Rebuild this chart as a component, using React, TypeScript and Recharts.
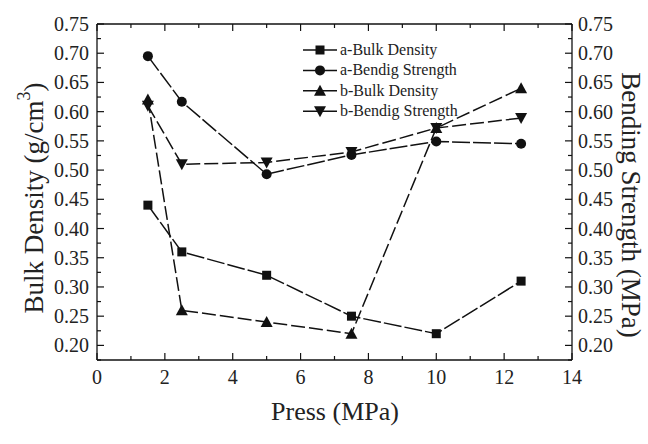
import { Legend, Line, LineChart, XAxis, YAxis } from 'recharts'

const PRESS = [1.5, 2.5, 5, 7.5, 10, 12.5]
const A_BULK = [0.44, 0.36, 0.32, 0.25, 0.22, 0.31]
const A_BEND = [0.695, 0.617, 0.493, 0.526, 0.549, 0.545]
const B_BULK = [0.621, 0.26, 0.24, 0.22, 0.572, 0.64]
const B_BEND = [0.61, 0.51, 0.513, 0.531, 0.572, 0.589]

const X_TICKS = [0, 1, 2, 3, 4, 5, 6, 7, 8, 9, 10, 11, 12, 13, 14]
const Y_TICKS = [
  0.175, 0.2, 0.225, 0.25, 0.275, 0.3, 0.325, 0.35, 0.375, 0.4, 0.425, 0.45, 0.475, 0.5,
  0.525, 0.55, 0.575, 0.6, 0.625, 0.65, 0.675, 0.7, 0.725, 0.75,
]

const data = PRESS.map((p, i) => ({
  press: p,
  aBulk: A_BULK[i],
  aBend: A_BEND[i],
  bBulk: B_BULK[i],
  bBend: B_BEND[i],
}))

const W = 648
const H = 444
const PLOT_LEFT = 97
const PLOT_RIGHT = 572
const PLOT_TOP = 24
const PLOT_BOTTOM = 360
const INK = '#111'
const FONT = 'Liberation Serif, Times New Roman, DejaVu Serif, serif'
const txt = { fontFamily: FONT, fill: '#222' }

const isMajorY = (v: number) => Math.abs(v * 20 - Math.round(v * 20)) < 1e-6
const isMajorX = (v: number) => v % 2 === 0

type Shape = 'square' | 'circle' | 'up' | 'down'

function marker(shape: Shape, cx: number, cy: number, key?: string) {
  if (shape === 'square') return <rect key={key} x={cx - 4.5} y={cy - 4.5} width={9} height={9} fill={INK} />
  if (shape === 'circle') return <circle key={key} cx={cx} cy={cy} r={5} fill={INK} />
  if (shape === 'up')
    return <polygon key={key} points={`${cx},${cy - 6} ${cx - 6},${cy + 5} ${cx + 6},${cy + 5}`} fill={INK} />
  return <polygon key={key} points={`${cx},${cy + 6} ${cx - 6},${cy - 5} ${cx + 6},${cy - 5}`} fill={INK} />
}

const dotFor = (shape: Shape) => (p: any) => marker(shape, p.cx, p.cy, `${shape}-${p.index}`)

function LeftTick({ y, payload }: any) {
  const major = isMajorY(payload.value)
  return (
    <g>
      <line x1={PLOT_LEFT} x2={PLOT_LEFT + (major ? 7 : 4)} y1={y} y2={y} stroke={INK} strokeWidth={1.2} />
      {major && (
        <text x={PLOT_LEFT - 8} y={y} dy={7} textAnchor="end" fontSize={20} style={txt}>
          {payload.value.toFixed(2)}
        </text>
      )}
    </g>
  )
}

function RightTick({ y, payload }: any) {
  const major = isMajorY(payload.value)
  return (
    <g>
      <line x1={PLOT_RIGHT} x2={PLOT_RIGHT - (major ? 7 : 4)} y1={y} y2={y} stroke={INK} strokeWidth={1.2} />
      {major && (
        <text x={PLOT_RIGHT + 6} y={y} dy={7} textAnchor="start" fontSize={20} style={txt}>
          {payload.value.toFixed(2)}
        </text>
      )}
    </g>
  )
}

function BottomTick({ x, payload }: any) {
  const major = isMajorX(payload.value)
  return (
    <g>
      <line x1={x} x2={x} y1={PLOT_BOTTOM} y2={PLOT_BOTTOM - (major ? 7 : 4)} stroke={INK} strokeWidth={1.2} />
      {major && (
        <text x={x} y={PLOT_BOTTOM + 24} textAnchor="middle" fontSize={20} style={txt}>
          {payload.value}
        </text>
      )}
    </g>
  )
}

function TopTick({ x, payload }: any) {
  const major = isMajorX(payload.value)
  return <line x1={x} x2={x} y1={PLOT_TOP} y2={PLOT_TOP + (major ? 7 : 4)} stroke={INK} strokeWidth={1.2} />
}

const LEGEND_ITEMS: { label: string; shape: Shape }[] = [
  { label: 'a-Bulk Density', shape: 'square' },
  { label: 'a-Bendig Strength', shape: 'circle' },
  { label: 'b-Bulk Density', shape: 'up' },
  { label: 'b-Bendig Strength', shape: 'down' },
]

function LegendBox() {
  return (
    <svg width={180} height={84} style={{ display: 'block' }}>
      {LEGEND_ITEMS.map((it, i) => {
        const cy = 10 + i * 20.4
        return (
          <g key={it.label}>
            <line x1={1} x2={35} y1={cy} y2={cy} stroke={INK} strokeWidth={1.5} />
            {marker(it.shape, 18, cy)}
            <text x={38} y={cy + 5} fontSize={16} style={txt}>
              {it.label}
            </text>
          </g>
        )
      })}
    </svg>
  )
}

const axisLine = { stroke: INK, strokeWidth: 1.3 }

export default function App() {
  return (
    <div style={{ position: 'absolute', left: 0, top: 0, width: W, height: H, background: '#fff' }}>
      <LineChart width={W} height={H} data={data} margin={{ top: 0, right: 0, bottom: 0, left: 0 }}>
        <XAxis
          dataKey="press"
          type="number"
          domain={[0, 14]}
          ticks={X_TICKS}
          interval={0}
          height={H - PLOT_BOTTOM}
          axisLine={axisLine}
          tickLine={false}
          tick={<BottomTick />}
          label={{
            content: () => (
              <text x={335} y={420} textAnchor="middle" fontSize={26} style={txt}>
                Press (MPa)
              </text>
            ),
          }}
        />
        <XAxis
          xAxisId="top"
          orientation="top"
          dataKey="press"
          type="number"
          domain={[0, 14]}
          ticks={X_TICKS}
          interval={0}
          height={PLOT_TOP}
          axisLine={axisLine}
          tickLine={false}
          tick={<TopTick />}
        />
        <YAxis
          yAxisId="left"
          type="number"
          domain={[0.175, 0.75]}
          allowDataOverflow
          ticks={Y_TICKS}
          interval={0}
          width={PLOT_LEFT}
          axisLine={axisLine}
          tickLine={false}
          tick={<LeftTick />}
          label={{
            content: () => (
              <text
                x={34}
                y={198}
                transform="rotate(-90, 34, 198)"
                textAnchor="middle"
                dominantBaseline="central"
                fontSize={27}
                style={txt}
              >
                Bulk Density (g/cm
                <tspan dy={-10} fontSize={18}>
                  3
                </tspan>
                <tspan dy={10}>)</tspan>
              </text>
            ),
          }}
        />
        <YAxis
          yAxisId="right"
          orientation="right"
          type="number"
          domain={[0.175, 0.75]}
          allowDataOverflow
          ticks={Y_TICKS}
          interval={0}
          width={W - PLOT_RIGHT}
          axisLine={axisLine}
          tickLine={false}
          tick={<RightTick />}
          label={{
            content: () => (
              <text
                x={631}
                y={205}
                transform="rotate(90, 631, 205)"
                textAnchor="middle"
                dominantBaseline="central"
                fontSize={27}
                style={txt}
              >
                Bending Strength (MPa)
              </text>
            ),
          }}
        />
        <Legend
          layout="vertical"
          align="center"
          verticalAlign="middle"
          content={() => <LegendBox />}
          wrapperStyle={{ position: 'absolute', left: 302, top: 40, width: 180, height: 84 }}
        />
        <Line
          yAxisId="left"
          dataKey="aBulk"
          name="a-Bulk Density"
          stroke={INK}
          strokeWidth={1.5}
          strokeDasharray="18 3"
          dot={dotFor('square')}
          activeDot={false}
          isAnimationActive={false}
        />
        <Line
          yAxisId="right"
          dataKey="aBend"
          name="a-Bendig Strength"
          stroke={INK}
          strokeWidth={1.5}
          strokeDasharray="18 3"
          dot={dotFor('circle')}
          activeDot={false}
          isAnimationActive={false}
        />
        <Line
          yAxisId="left"
          dataKey="bBulk"
          name="b-Bulk Density"
          stroke={INK}
          strokeWidth={1.5}
          strokeDasharray="14 4"
          dot={dotFor('up')}
          activeDot={false}
          isAnimationActive={false}
        />
        <Line
          yAxisId="right"
          dataKey="bBend"
          name="b-Bendig Strength"
          stroke={INK}
          strokeWidth={1.5}
          strokeDasharray="14 4"
          dot={dotFor('down')}
          activeDot={false}
          isAnimationActive={false}
        />
      </LineChart>
    </div>
  )
}
